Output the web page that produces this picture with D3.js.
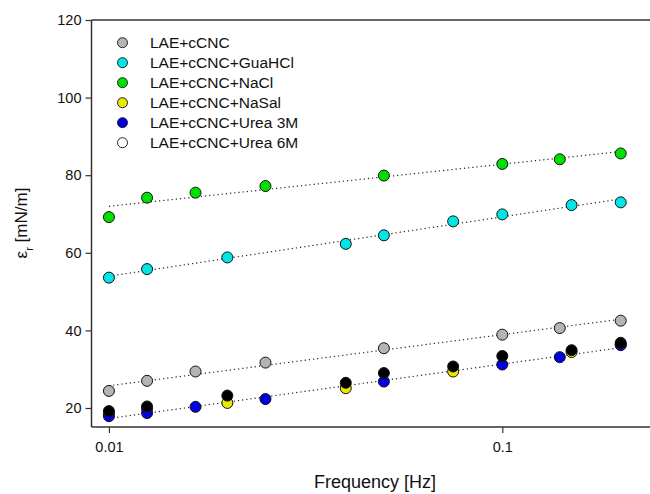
<!DOCTYPE html>
<html>
<head>
  <meta charset="utf-8">
  <script src="https://cdn.jsdelivr.net/npm/d3@7"></script>
  <style>
    body { margin: 0; background: white; }
    text { font-family: "Liberation Sans", Arial, sans-serif; fill: #111; }
  </style>
</head>
<body>
<svg id="chart" width="650" height="494"></svg>
<script>
  // data (frequency in Hz, value in mN/m)
  var freqA = [0.01, 0.0125, 0.0166, 0.025, 0.05, 0.1, 0.14, 0.2];
  var freqB = [0.01, 0.0125, 0.02, 0.04, 0.05, 0.075, 0.1, 0.15, 0.2];
  var freqSal = [0.01, 0.0125, 0.02, 0.04, 0.075, 0.15, 0.2];

  var cncVals    = [24.4, 27.0, 29.4, 31.7, 35.4, 38.9, 40.6, 42.5];
  var guaVals    = [53.6, 55.8, 58.8, 62.3, 64.5, 68.1, 69.9, 72.3, 73.0];
  var naclVals   = [69.2, 74.2, 75.5, 77.2, 79.9, 82.9, 84.1, 85.6];
  var nasalVals  = [18.6, 19.8, 21.3, 25.1, 29.4, 34.4, 36.4];
  var urea3Vals  = [17.9, 18.7, 20.3, 22.3, 26.8, 31.2, 33.1, 36.2];
  var urea6Vals  = [19.2, 20.4, 23.2, 26.5, 29.0, 30.7, 33.4, 34.9, 36.8];

  var seriesNames = ["LAE+cCNC", "LAE+cCNC+GuaHCl", "LAE+cCNC+NaCl", "LAE+cCNC+NaSal", "LAE+cCNC+Urea 3M", "LAE+cCNC+Urea 6M"];
  var seriesColors = ["#b4b4b4", "#00e5e5", "#00e000", "#e8e800", "#0000e0", "#000000"];
  var legendFill = ["#b4b4b4", "#00e5e5", "#00e000", "#e8e800", "#0000e0", "#ffffff"];
  var fitted = [true, true, true, false, true, false];

  var yTicks = [20, 40, 60, 80, 100, 120];
  var xTicks = [0.01, 0.1];

  var series = [
    {x: freqA, y: cncVals},
    {x: freqB, y: guaVals},
    {x: freqA, y: naclVals},
    {x: freqSal, y: nasalVals},
    {x: freqA, y: urea3Vals},
    {x: freqB, y: urea6Vals}
  ];

  var plotL = 91.5, plotR = 650, plotT = 20, plotB = 427;

  var x = d3.scaleLog().domain([0.00903, 0.2374]).range([plotL, plotR]);
  var y = d3.scaleLinear().domain([15.1, 120]).range([plotB, plotT]);

  var svg = d3.select("#chart");

  // frame lines (left, top, bottom)
  var frame = svg.append("g").attr("stroke", "#333").attr("stroke-width", 1.5);
  frame.append("line").attr("x1", plotL).attr("x2", plotL).attr("y1", plotT).attr("y2", plotB);
  frame.append("line").attr("x1", plotL).attr("x2", plotR).attr("y1", plotT).attr("y2", plotT);
  frame.append("line").attr("x1", plotL).attr("x2", plotR).attr("y1", plotB).attr("y2", plotB);

  // y axis
  var yAxis = svg.append("g").attr("transform", "translate(" + plotL + ",0)")
    .call(d3.axisLeft(y).tickValues(yTicks).tickSize(6).tickPadding(4));
  yAxis.select(".domain").remove();
  yAxis.selectAll("line").attr("stroke", "#333").attr("stroke-width", 1.2);
  yAxis.selectAll("text").style("font-size", "14.5px").attr("fill", "#111");

  // x axis
  var xAxis = svg.append("g").attr("transform", "translate(0," + plotB + ")")
    .call(d3.axisBottom(x).tickValues(xTicks).tickFormat(d3.format("")).tickSize(6).tickPadding(9));
  xAxis.select(".domain").remove();
  xAxis.selectAll("line").attr("stroke", "#333").attr("stroke-width", 1.2);
  xAxis.selectAll("text").style("font-size", "14.5px").attr("fill", "#111");

  // axis titles
  svg.append("text")
    .attr("x", 375).attr("y", 488)
    .attr("text-anchor", "middle")
    .style("font-size", "18px")
    .text("Frequency [Hz]");

  var yt = svg.append("text")
    .attr("transform", "translate(27,223) rotate(-90)")
    .attr("text-anchor", "middle")
    .style("font-size", "17px");
  yt.append("tspan").text("\u03b5");
  yt.append("tspan").attr("baseline-shift", "sub").style("font-size", "11px").text("r");
  yt.append("tspan").text(" [mN/m]");

  // trend lines: least squares against log10(frequency)
  function fit(xs, ys) {
    var lx = xs.map(function(d) { return Math.log10(d); });
    var mx = d3.mean(lx), my = d3.mean(ys);
    var num = d3.sum(lx, function(d, i) { return (d - mx) * (ys[i] - my); });
    var den = d3.sum(lx, function(d) { return (d - mx) * (d - mx); });
    var b = num / den, a = my - b * mx;
    return function(f) { return a + b * Math.log10(f); };
  }

  series.forEach(function(s, i) {
    if (!fitted[i]) return;
    var f = fit(s.x, s.y);
    var ends = d3.extent(s.x);
    svg.append("line")
      .attr("x1", x(ends[0])).attr("y1", y(f(ends[0])))
      .attr("x2", x(ends[1])).attr("y2", y(f(ends[1])))
      .attr("stroke", "#222").attr("stroke-width", 1.2)
      .attr("stroke-dasharray", "1.2,3");
  });

  // points
  series.forEach(function(s, i) {
    svg.append("g").selectAll("circle")
      .data(s.x)
      .enter().append("circle")
      .attr("cx", function(d) { return x(d); })
      .attr("cy", function(d, j) { return y(s.y[j]); })
      .attr("r", 5.5)
      .attr("fill", seriesColors[i])
      .attr("stroke", "#111")
      .attr("stroke-width", 1);
  });

  // legend
  var legend = svg.append("g");
  var rows = legend.selectAll("g").data(seriesNames).enter().append("g")
    .attr("transform", function(d, i) { return "translate(122.5," + (42.7 + i * 20) + ")"; });
  rows.append("circle")
    .attr("r", 5)
    .attr("fill", function(d, i) { return legendFill[i]; })
    .attr("stroke", "#222").attr("stroke-width", 1);
  rows.append("text")
    .attr("x", 27.5).attr("dy", "0.35em")
    .style("font-size", "15.5px")
    .text(function(d) { return d; });
</script>
</body>
</html>
